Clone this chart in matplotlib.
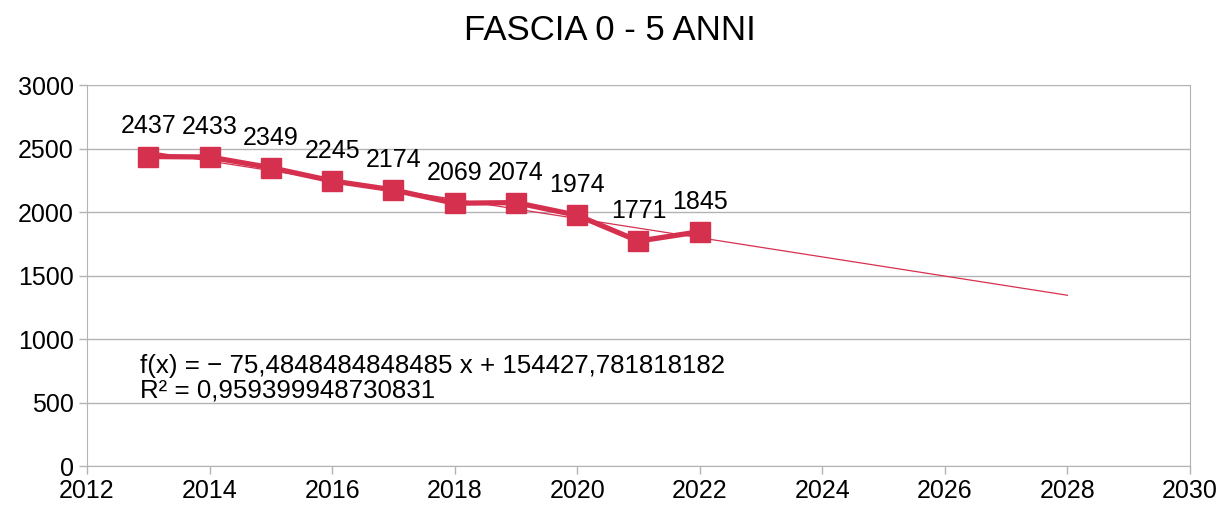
import numpy as np
import matplotlib.pyplot as plt

plt.rcParams['font.family'] = ['Liberation Sans', 'DejaVu Sans']

years = [2013, 2014, 2015, 2016, 2017, 2018, 2019, 2020, 2021, 2022]
children = [2437, 2433, 2349, 2245, 2174, 2069, 2074, 1974, 1771, 1845]
trend_end = 2028

color = '#d6304f'

fig = plt.figure(figsize=(12.2, 5.13), dpi=100)
ax = fig.add_axes([0.0713, 0.0916, 0.9041, 0.7427])

# linear trend line (least squares on centered data)
x = np.array(years, dtype=float)
y = np.array(children, dtype=float)
xc, yc = x - x.mean(), y - y.mean()
slope = (xc * yc).sum() / (xc ** 2).sum()
intercept = y.mean() - slope * x.mean()
r2 = (xc * yc).sum() ** 2 / ((xc ** 2).sum() * (yc ** 2).sum())

tx = np.array([years[0], trend_end])
ax.plot(tx, slope * tx + intercept, color=color, lw=0.9, zorder=2)

ax.plot(years, children, color=color, lw=3.8, marker='s', markersize=14,
        zorder=3)

for xi, yi in zip(years, children):
    ax.annotate(str(yi), (xi, yi), xytext=(0, 13), textcoords='offset points',
                ha='center', va='bottom', fontsize=18)

ax.set_xlim(2012, 2030)
ax.set_ylim(0, 3000)
ax.set_xticks(range(2012, 2031, 2))
ax.set_yticks(range(0, 3001, 500))
ax.grid(axis='y', color='#b3b3b3', lw=1)
ax.set_axisbelow(True)
for s in ['top', 'bottom', 'left', 'right']:
    ax.spines[s].set_color('#b3b3b3')
ax.spines['top'].set_visible(False)
ax.tick_params(colors='#b3b3b3', labelcolor='black', labelsize=18,
               length=6, width=1)

eq = (f"f(x) = \u2212 {abs(slope):.15g} x + {intercept:.15g}".replace('.', ',')
      + "\n" + f"R\u00b2 = {r2:.15g}".replace('.', ','))
ax.text(0.048, 0.231, eq, transform=ax.transAxes, fontsize=18.6,
        va='center', ha='left', linespacing=1.05)

fig.suptitle('FASCIA 0 - 5 ANNI', fontsize=25, y=0.972)

fig.savefig('out.png')
